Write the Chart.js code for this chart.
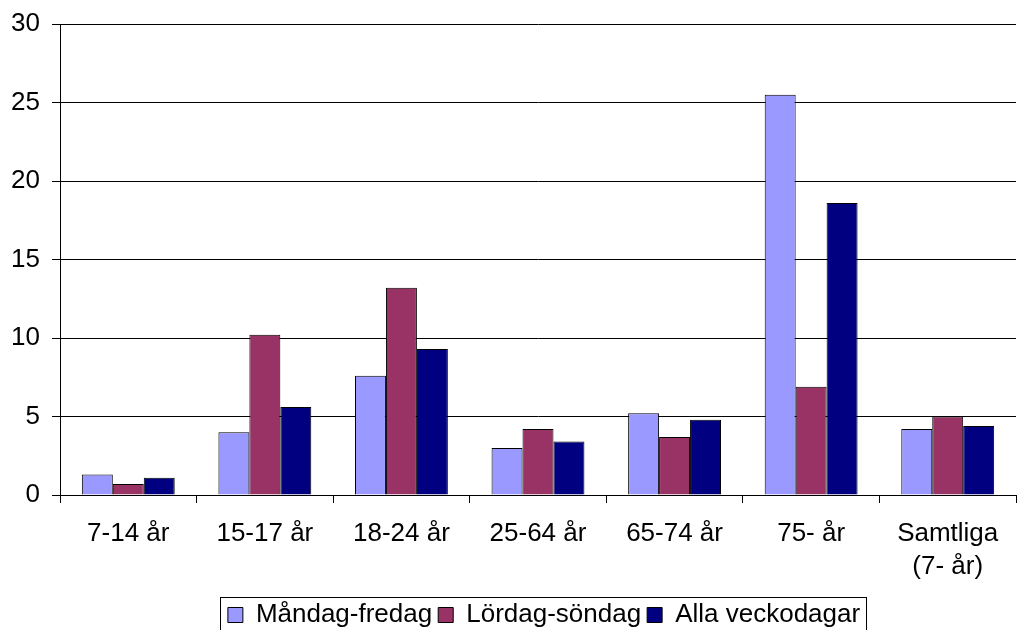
<!DOCTYPE html>
<html>
<head>
<meta charset="utf-8">
<script src="https://cdn.jsdelivr.net/npm/chart.js@4"></script>
<style>
  html, body { margin: 0; padding: 0; background: #fff; }
  #wrap { width: 1018px; height: 630px; }
</style>
</head>
<body>
<div id="wrap"><canvas id="chart" width="1018" height="630"></canvas></div>
<script>
var categories = ['7-14 år', '15-17 år', '18-24 år', '25-64 år', '65-74 år', '75- år', ['Samtliga', '(7- år)']];
var seriesNames = ['Måndag-fredag', 'Lördag-söndag', 'Alla veckodagar'];
var mandagFredag = [1.3, 4.0, 7.6, 3.0, 5.2, 25.5, 4.2];
var lordagSondag = [0.7, 10.2, 13.2, 4.2, 3.7, 6.9, 5.0];
var allaVeckodagar = [1.1, 5.6, 9.3, 3.4, 4.8, 18.6, 4.4];
var seriesColors = ['#9999ff', '#993366', '#000080'];
var yTicks = { min: 0, max: 30, step: 5 };

var font = "'Liberation Sans', Arial, sans-serif";

// moves the legend under the plot centre and draws a frame round it
var legendFrame = {
    id: 'legendFrame',
    afterUpdate: function(chart) {
        var lg = chart.legend;
        var boxes = lg && lg.legendHitBoxes;
        if (!boxes || !boxes.length) return;
        var l = Infinity, r = -Infinity, t = Infinity;
        boxes.forEach(function(h) {
            l = Math.min(l, h.left); r = Math.max(r, h.left + h.width); t = Math.min(t, h.top);
        });
        var dx = Math.round(544 - (l + r) / 2);
        var dy = Math.round(602 - t);
        lg.left += dx; lg.right += dx; lg.top += dy; lg.bottom += dy;
        boxes.forEach(function(h) { h.left += dx; h.top += dy; });
    },
    afterDraw: function(chart) {
        var boxes = chart.legend && chart.legend.legendHitBoxes;
        if (!boxes || !boxes.length) return;
        var l = Infinity, t = Infinity, r = -Infinity, b = -Infinity;
        boxes.forEach(function(h) {
            l = Math.min(l, h.left); t = Math.min(t, h.top);
            r = Math.max(r, h.left + h.width); b = Math.max(b, h.top + h.height);
        });
        var ctx = chart.ctx;
        ctx.save();
        ctx.strokeStyle = '#000';
        ctx.lineWidth = 1;
        ctx.strokeRect(Math.round(l - 8) + 0.5, Math.round(t - 5) + 0.5, Math.round(r - l + 14), Math.round(b - t + 12));
        ctx.restore();
    }
};

var ctx = document.getElementById('chart').getContext('2d');
new Chart(ctx, {
    type: 'bar',
    data: {
        labels: categories,
        datasets: [mandagFredag, lordagSondag, allaVeckodagar].map(function(vals, i) {
            return {
                label: seriesNames[i],
                data: vals,
                backgroundColor: seriesColors[i],
                borderColor: '#000',
                borderWidth: 1,
                categoryPercentage: 0.68,
                barPercentage: 1.0
            };
        })
    },
    options: {
        responsive: false,
        animation: false,
        layout: { padding: { top: 24, right: 2, left: 0, bottom: 0 } },
        plugins: {
            tooltip: { enabled: false },
            legend: {
                position: 'bottom',
                labels: {
                    color: '#000',
                    font: { family: font, size: 26 },
                    boxWidth: 15,
                    boxHeight: 15,
                    padding: 6,
                    generateLabels: function(chart) {
                        return chart.data.datasets.map(function(ds, i) {
                            return {
                                text: ds.label,
                                fillStyle: ds.backgroundColor,
                                strokeStyle: '#000',
                                lineWidth: 1,
                                datasetIndex: i
                            };
                        });
                    }
                }
            }
        },
        scales: {
            x: {
                grid: { offset: true, drawOnChartArea: false, drawTicks: true, tickLength: 8, color: '#000' },
                border: { color: '#000', width: 1 },
                ticks: { color: '#000', font: { family: font, size: 26, lineHeight: 1.27 }, padding: 14, maxRotation: 0 },
                afterFit: function(scale) { scale.height = 93; }
            },
            y: {
                min: yTicks.min,
                max: yTicks.max,
                ticks: { stepSize: yTicks.step, color: '#000', font: { family: font, size: 26 }, padding: 12 },
                grid: { color: '#000', lineWidth: 1, tickLength: 8 },
                border: { color: '#000', width: 1 },
                afterFit: function(scale) {
                    scale.width = 60;
                    scale.paddingTop = 0;
                    scale.paddingBottom = 0;
                }
            }
        }
    },
    plugins: [legendFrame]
});
</script>
</body>
</html>
